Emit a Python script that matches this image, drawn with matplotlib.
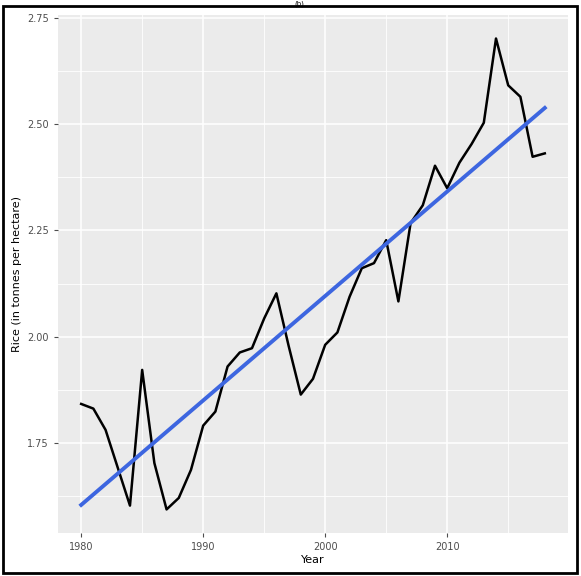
import numpy as np
import matplotlib
matplotlib.use("Agg")
import matplotlib.pyplot as plt
from matplotlib.patches import Rectangle

# rice yield per year
years = list(range(1980, 2019))
rice = [1.842, 1.831, 1.781, 1.692, 1.603, 1.922, 1.703, 1.594, 1.621, 1.687,
        1.791, 1.824, 1.930, 1.963, 1.973, 2.043, 2.102, 1.979, 1.864, 1.901,
        1.981, 2.010, 2.094, 2.161, 2.173, 2.227, 2.083, 2.267, 2.309, 2.402,
        2.349, 2.409, 2.453, 2.503, 2.701, 2.591, 2.564, 2.423, 2.431]

x_ticks = [1980, 1990, 2000, 2010]
y_ticks = [1.75, 2.00, 2.25, 2.50, 2.75]

x = np.array(years)
y = np.array(rice)

# linear fit, like geom_smooth(method = "lm")
slope, inter = np.polyfit(x, y, 1)
fit = slope * x + inter

fig = plt.figure(figsize=(5.81, 5.76), dpi=100)
ax = fig.add_axes([0.0998, 0.0747, 0.8778, 0.8993])
ax.set_facecolor('#EBEBEB')

# minor + major grid, ggplot style
for v in [1985, 1995, 2005, 2015]:
    ax.axvline(v, color='white', lw=0.6, zorder=0)
for v in [1.625, 1.875, 2.125, 2.375, 2.625]:
    ax.axhline(v, color='white', lw=0.6, zorder=0)
for v in x_ticks:
    ax.axvline(v, color='white', lw=1.1, zorder=0)
for v in y_ticks:
    ax.axhline(v, color='white', lw=1.1, zorder=0)

ax.plot(x, y, color='black', lw=1.8, zorder=2)
ax.plot(x, fit, color='#3D66E0', lw=2.8, zorder=3)

# ggplot expansion of 5%
lo = min(y.min(), fit.min())
hi = max(y.max(), fit.max())
pad = (hi - lo) * 0.05
ax.set_ylim(lo - pad, hi + pad)
ax.set_xlim(1980 - 38 * 0.05, 2018 + 38 * 0.05)

ax.set_xticks(x_ticks)
ax.set_yticks(y_ticks)
ax.set_yticklabels(['%.2f' % v for v in y_ticks])
ax.tick_params(colors='#4D4D4D', labelsize=7, length=3, width=0.8)
for s in ax.spines.values():
    s.set_visible(False)

ax.set_xlabel('Year', fontsize=8, color='black', labelpad=2)
ax.set_ylabel('Rice (in tonnes per hectare)', fontsize=8, color='black', labelpad=4)

# black frame round the figure
fig.patches.append(Rectangle((0.006, 0.005), 0.987, 0.984, transform=fig.transFigure,
                             fill=False, edgecolor='black', lw=2))

fig.text(0.515, 0.9995, '(b)', ha='center', va='top', fontsize=5)

fig.savefig('out.png', dpi=100)
